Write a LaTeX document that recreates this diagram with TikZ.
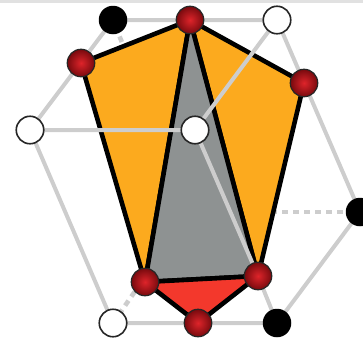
\documentclass[tikz,border=0pt]{standalone}
\definecolor{edgegrey}{RGB}{205,205,205}
\definecolor{orangefill}{RGB}{252,170,30}
\definecolor{greyfill}{RGB}{142,146,146}
\definecolor{redfill}{RGB}{243,56,44}
\definecolor{ballred}{RGB}{222,36,42}
\definecolor{balldark}{RGB}{120,10,14}
\definecolor{topband}{RGB}{225,225,225}
\tikzset{
  vtx/.style={circle,inner sep=0pt},
  redv/.style={vtx,minimum size=27.5pt,draw=black!85,line width=1.2pt,shade,inner color=ballred,outer color=balldark},
  whitev/.style={vtx,minimum size=27.5pt,fill=white,draw=black!85,line width=1.6pt},
  blackv/.style={vtx,fill=black,minimum size=28.5pt},
  edge/.style={draw=edgegrey,line width=4pt},
  dotedge/.style={draw=edgegrey,line width=4.6pt,dash pattern=on 6pt off 5pt},
  face/.style={draw=black,line width=4.6pt,line join=round}
}
\begin{document}
\begin{tikzpicture}[x=1pt,y=-1pt]
\useasboundingbox (0,0) rectangle (363,343);
\fill[topband] (0,0) rectangle (363,3);
\coordinate (tl) at (113,20);
\coordinate (t) at (190,20);
\coordinate (tr) at (277,20);
\coordinate (rl) at (81,63);
\coordinate (rr) at (304,83);
\coordinate (wl) at (30,130);
\coordinate (c) at (195,130);
\coordinate (kr) at (360,212);
\coordinate (hid) at (190,212);
\coordinate (rbl) at (145,282);
\coordinate (rbr) at (258,276);
\coordinate (b) at (198,323);
\coordinate (wb) at (113,323);
\coordinate (kb) at (277,323);
\draw[edge] (tl) -- (t) -- (tr) -- (kr) -- (kb) -- (wb) -- (wl) -- (tl);
\draw[edge] (kb) -- (rbr);
\draw[dotedge,dash phase=4.3pt] (tl) -- (hid);
\draw[dotedge,dash phase=6.7pt] (hid) -- (kr);
\draw[dotedge,dash phase=0.8pt] (wb) -- (hid);
\draw[face,fill=orangefill] (rl) -- (t) -- (rbl) -- cycle;
\draw[face,fill=orangefill] (t) -- (rr) -- (rbr) -- cycle;
\draw[face,fill=greyfill] (t) -- (rbl) -- (rbr) -- cycle;
\draw[face,fill=redfill] (rbl) -- (rbr) -- (b) -- cycle;
\draw[edge] (wl) -- (c) -- (tr);
\draw[edge] (c) -- (rbr);
\node[blackv] (n1) at (tl) {};
\node[redv] (n2) at (t) {};
\node[whitev] (n3) at (tr) {};
\node[redv] (n4) at (rl) {};
\node[redv] (n5) at (rr) {};
\node[whitev] (n6) at (wl) {};
\node[whitev] (n7) at (c) {};
\node[blackv] (n8) at (kr) {};
\node[redv] (n9) at (rbl) {};
\node[redv] (n10) at (rbr) {};
\node[redv] (n11) at (b) {};
\node[whitev] (n12) at (wb) {};
\node[blackv] (n13) at (kb) {};
\end{tikzpicture}
\end{document}
